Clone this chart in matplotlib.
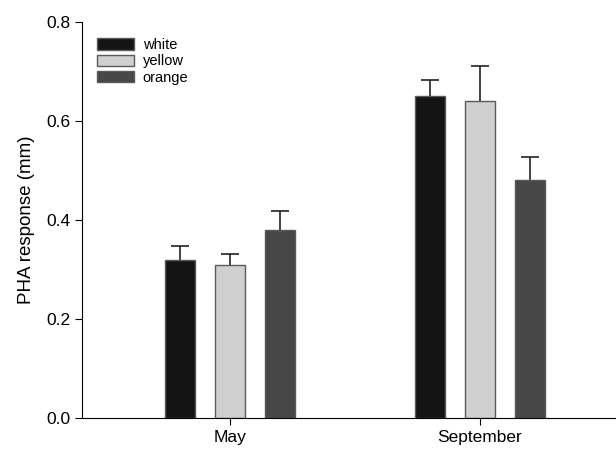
import matplotlib
matplotlib.use("Agg")
import matplotlib.pyplot as plt
import numpy as np

plt.rcParams['font.family'] = ['Liberation Sans', 'DejaVu Sans']

months = ["May", "September"]
labels = ["white", "yellow", "orange"]
colors = ["#141414", "#cfd0cf", "#474747"]
means = {
    "white": [0.32, 0.65],
    "yellow": [0.31, 0.64],
    "orange": [0.38, 0.48],
}
errs = {
    "white": [0.027, 0.033],
    "yellow": [0.022, 0.071],
    "orange": [0.038, 0.048],
}

fig = plt.figure(figsize=(6.16, 4.5), dpi=100)
ax = fig.add_axes([0.133, 0.071, 0.867, 0.88])

x = np.arange(len(months))
width = 0.12
offsets = [-0.2, 0.0, 0.2]
for lab, col, off in zip(labels, colors, offsets):
    ax.bar(x + off, means[lab], width, color=col, edgecolor="#5a5a5a", linewidth=1,
           label=lab, zorder=2)
    _, caps, _ = ax.errorbar(x + off, means[lab], yerr=[np.zeros(2), errs[lab]],
                             fmt="none", ecolor="#222222", elinewidth=1.2,
                             capsize=6.5, capthick=1.2, zorder=1)
    # hide the cap sitting on the bar top (lower error is zero)
    for c in caps:
        if np.allclose(c.get_ydata(), means[lab]):
            c.set_visible(False)

ax.set_xlim(-0.592, 1.544)
ax.set_ylim(0, 0.8)
ax.set_yticks([0.0, 0.2, 0.4, 0.6, 0.8])
ax.set_yticklabels(["0.0", "0.2", "0.4", "0.6", "0.8"])
ax.set_xticks(x)
ax.set_xticklabels(months)
ax.tick_params(labelsize=12.5, direction="out", length=5)
ax.set_ylabel("PHA response (mm)", fontsize=13.5, labelpad=8)
ax.spines["top"].set_visible(False)
ax.spines["right"].set_visible(False)

ax.legend(loc="upper left", bbox_to_anchor=(0.01, 0.985), frameon=False, fontsize=10.5,
          handlelength=2.5, handleheight=0.85, labelspacing=0.15, handletextpad=0.6,
          borderpad=0.2)

fig.savefig("out.png", dpi=100)
